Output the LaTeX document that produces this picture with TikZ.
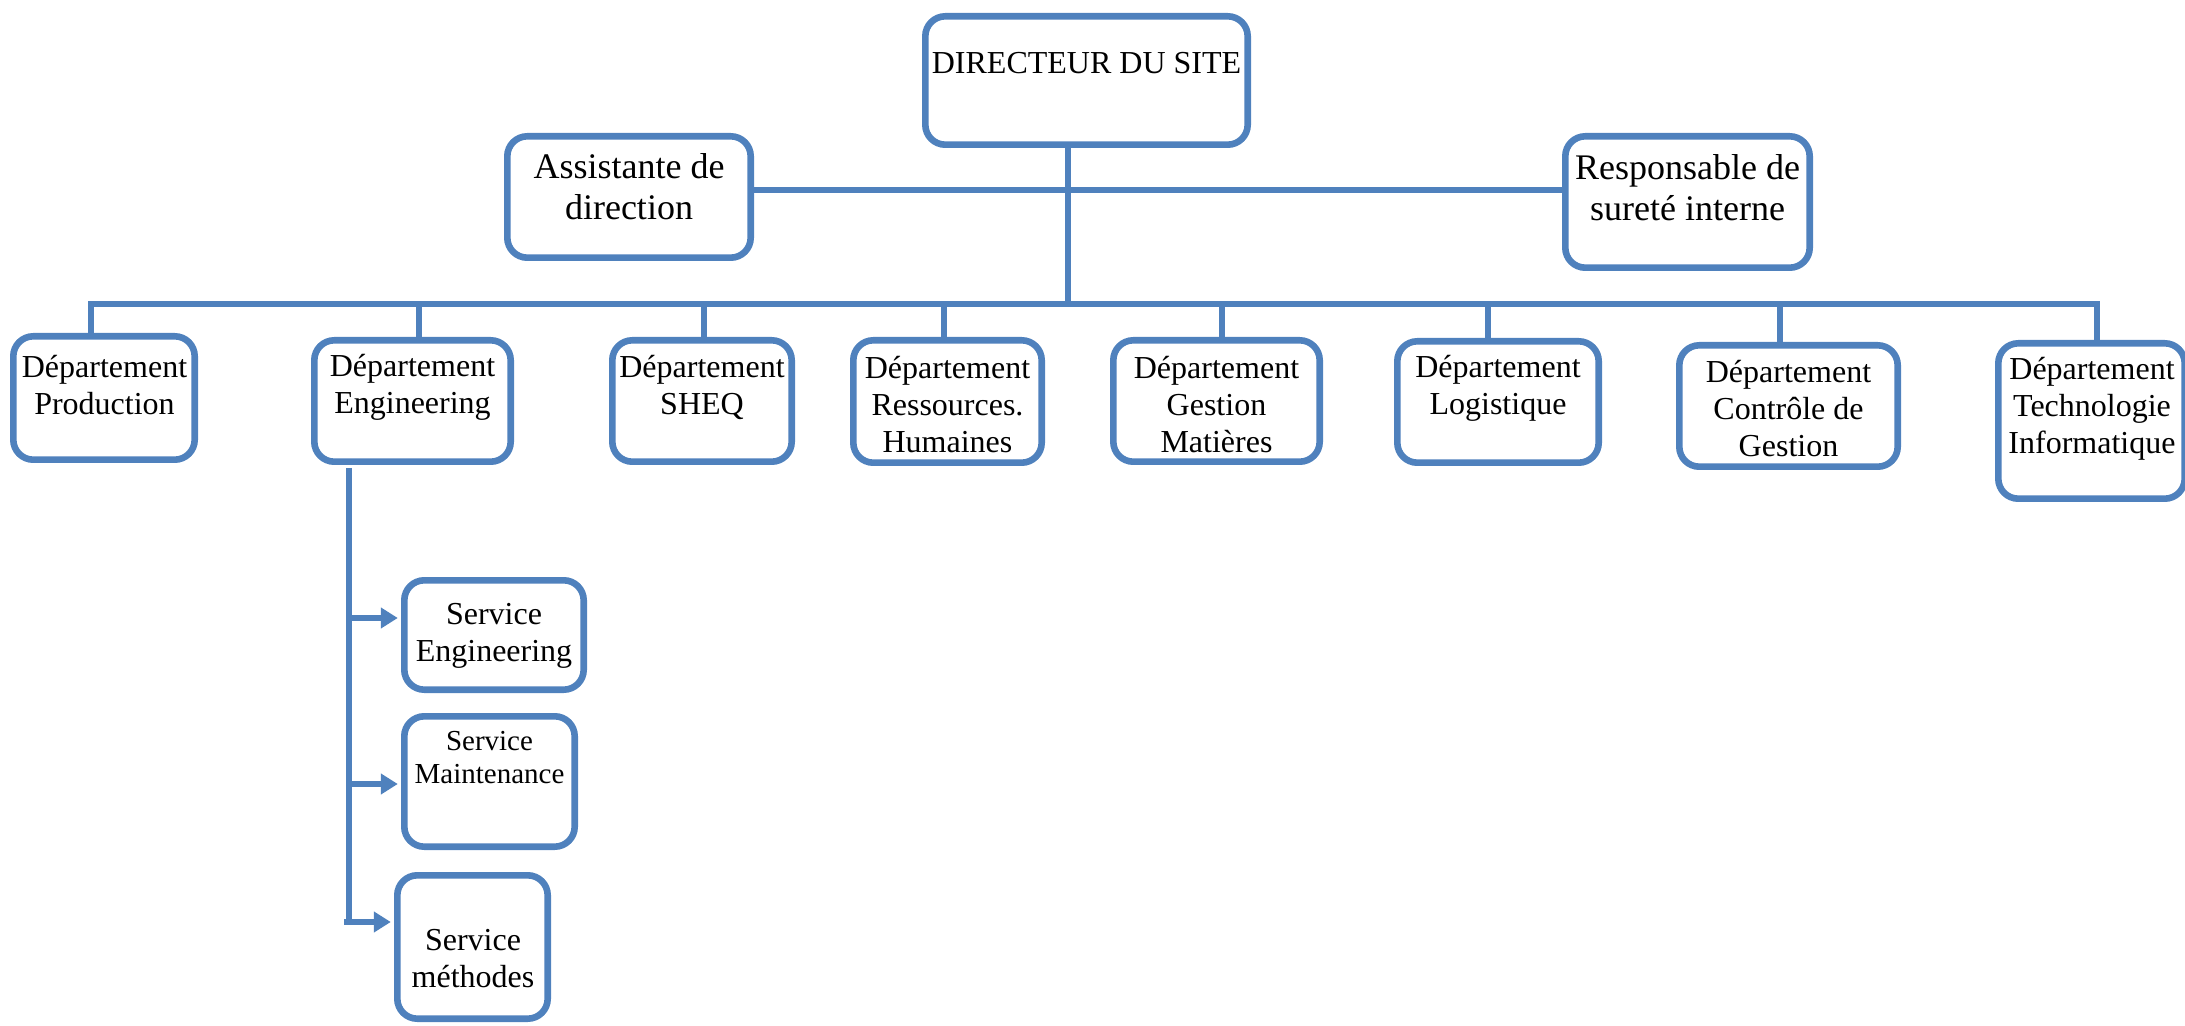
\documentclass[tikz,border=0pt]{standalone}
\usepackage{fontspec}
\setmainfont{Liberation Serif}
\usetikzlibrary{arrows.meta}
\definecolor{orgblue}{RGB}{79,129,189}

% box from outer pixel corners (x1,y1) to (x2,y2)
\newcommand\orgbox[5]{%
  \pgfmathsetmacro\obw{(#4-#2)*0.5-3.3}%
  \pgfmathsetmacro\obh{(#5-#3)*0.5-3.3}%
  \pgfmathsetmacro\obx{(#2+#4)/2}%
  \pgfmathsetmacro\oby{(#3+#5)/2}%
  \node[box, minimum width=\obw pt, minimum height=\obh pt] (#1) at (\obx,\oby) {};}

\begin{document}
\begin{tikzpicture}[x=0.5pt, y=-0.5pt,
  box/.style={rectangle, draw=orgblue, line width=3.3pt, rounded corners=10pt, fill=white, inner sep=0pt},
  conn/.style={draw=orgblue, line width=3.2pt},
  arr/.style={conn, -{Triangle[length=8.5pt,width=10pt]}, shorten >=1.6pt},
  lbl/.style={align=center, inner sep=0pt, font=\fontsize{16}{18.5}\selectfont},
  biglbl/.style={lbl, font=\fontsize{18}{20.5}\selectfont},
  smalllbl/.style={lbl, font=\fontsize{14.5}{16.5}\selectfont}]
\useasboundingbox (0,0) rectangle (2185,1026);

% boxes
\orgbox{dir}{922}{13}{1251}{148}
\orgbox{asst}{504}{133}{754}{261}
\orgbox{resp}{1562}{133}{1813}{271}
\orgbox{prod}{10}{333}{198}{463}
\orgbox{eng}{311}{337}{514}{465}
\orgbox{sheq}{609}{337}{795}{465}
\orgbox{rh}{850}{337}{1045}{466}
\orgbox{gm}{1110}{337}{1323}{465}
\orgbox{log}{1394}{338}{1602}{466}
\orgbox{cg}{1676}{342}{1901}{470}
\orgbox{ti}{1995}{340}{2188}{502}
\orgbox{se}{401}{577}{587}{693}
\orgbox{sm}{401}{713}{578}{850}
\orgbox{smet}{394}{872}{551}{1022}

% labels
\node[lbl] (dirT) at (1086.5,63) {DIRECTEUR DU SITE};
\node[biglbl] (asstT) at (629,187) {Assistante de\\direction};
\node[biglbl] (respT) at (1687.5,188) {Responsable de\\sureté interne};
\node[lbl] (prodT) at (104.5,385) {Département\\Production};
\node[lbl] (engT) at (412.5,387) {Département\\Engineering};
\node[lbl] (sheqT) at (702,387) {Département\\SHEQ};
\node[lbl] (rhT) at (947.5,405) {Département\\Ressources.\\Humaines};
\node[lbl] (gmT) at (1216.5,405) {Département\\Gestion\\Matières};
\node[lbl] (logT) at (1498,388) {Département\\Logistique};
\node[lbl] (cgT) at (1788.5,409) {Département\\Contrôle de\\Gestion};
\node[lbl] (tiT) at (2092,409) {Département\\Technologie\\Informatique};
\node[lbl] (seT) at (494,636) {Service\\Engineering};
\node[smalllbl] (smT) at (489.5,758) {Service\\Maintenance};
\node[lbl] (smetT) at (473,959) {Service\\méthodes};

% director links
\coordinate (bus) at (1068,304);
\coordinate (hl) at (1068,190);
\coordinate (dirS) at ([xshift=-9.25pt]dir.south);
\draw[conn] (dirS) -- (dirS |- bus);
\draw[conn] (asst.east |- hl) -- (resp.west |- hl);

% department bus and stubs
\coordinate (prodS) at ([xshift=-6.5pt]prod.north);
\coordinate (tiS) at ([xshift=2.75pt]ti.north);
\draw[conn] (prodS) |- (bus) -| (tiS);
\coordinate (engS) at ([xshift=3.25pt]eng.north);
\coordinate (sheqS) at ([xshift=1pt]sheq.north);
\coordinate (rhS) at ([xshift=-1.75pt]rh.north);
\coordinate (gmS) at ([xshift=2.75pt]gm.north);
\coordinate (logS) at ([xshift=-5pt]log.north);
\coordinate (cgS) at ([xshift=-4.25pt]cg.north);
\foreach \s in {engS,sheqS,rhS,gmS,logS,cgS}
  \draw[conn] (\s) -- (\s |- bus);

% engineering services
\coordinate (spT) at ([xshift=-31.75pt,yshift=-1.5pt]eng.south);
\coordinate (spB) at (349,922);
\coordinate (a1) at (349,618);
\coordinate (a2) at (349,784);
\draw[conn] (spT) -- (spB);
\draw[arr] (a1) -- (se.west |- a1);
\draw[arr] (a2) -- (sm.west |- a2);
\draw[arr] ([xshift=-2.5pt]spB) -- (smet.west |- spB);
\end{tikzpicture}
\end{document}
